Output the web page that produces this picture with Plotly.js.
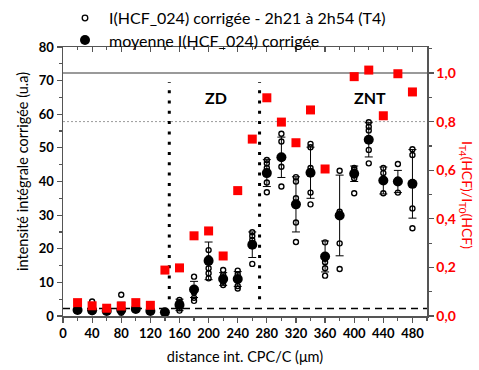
<!DOCTYPE html>
<html><head><meta charset="utf-8">
<script src="https://cdn.plot.ly/plotly-3.0.1.min.js"></script>
<style>body{margin:0;background:#fff}#g{width:479px;height:370px}</style>
</head><body><div id="g"></div>
<script>
const distances = [20,40,60,80,100,120,140,160,180,200,220,240,260,280,300,320,340,360,380,400,420,440,460,480];
const meanValues = [1.8,1.7,1.5,1.8,2.1,1.5,1.1,3.3,7.9,16.4,11.0,11.0,21.2,42.5,47.2,33.2,42.6,17.7,29.9,42.3,52.4,40.3,40.0,39.3];
const errValues  = [0.5,0.8,0.5,2.3,0.6,0.5,0.5,1.7,2.4,5.6,1.9,2.2,3.8,4.0,6.0,8.2,7.6,4.6,12.0,2.3,5.1,4.0,3.3,10.2];
const individualValues = [
  [1.5,1.9,2.2],[4.3,1.8,1.2],[1.3,1.7,2.0],[6.3,1.0,1.8,2.5],[2.0,2.5],[1.2,1.8],[0.8,1.3],
  [4.8,4.1,2.3,1.6],[11.7,8.2,7.0,5.4,4.5],[19.6,17.2,14.2,12.7,11.2],[13.7,12.2,10.2,9.2],
  [13.5,12.4,8.9,8.2],[24.9,23.8,22.6,15.5],[46.4,45.4,44.0,42.9,39.7,36.8],[54.2,51.9,44.4,38.5],
  [41.3,40.0,35.0,27.8,22.0],[51.2,50.2,44.0,36.7,33.2],[21.9,17.0,16.0,14.2,12.0],[43.2,31.0,21.6,14.0],
  [44.0,43.5,41.0,36.5],[57.6,56.3,55.2,49.4,45.4],[44.0,42.5,36.5],[45.2,36.7,40.5],[49.6,47.9,32.0,26.1]
];
const ratioValues = [0.055,0.042,0.032,0.041,0.055,0.044,0.189,0.198,0.330,0.350,0.247,0.516,0.728,0.898,0.798,0.713,0.848,0.605,null,0.985,1.012,0.824,0.997,0.922];
const zoneBoundaries = [146, 270];
const zoneLabels = [{text:'ZD', x:210}, {text:'ZNT', x:422}];
const thresholdLevel = 2.2;
const legendLabels = ['I(HCF_024) corrigée - 2h21 à 2h54 (T4)', 'moyenne I(HCF_024) corrigée'];

const indX = [], indY = [];
individualValues.forEach((arr,i)=>arr.forEach(v=>{indX.push(distances[i]); indY.push(v);}));

const FONT = 'Lato, sans-serif';
const traces = [
  {x:indX, y:indY, type:'scatter', mode:'markers', name:legendLabels[0], showlegend:false,
   marker:{symbol:'circle-open', size:5, color:'#000', line:{width:1.4, color:'#000'}}},
  {x:distances, y:meanValues, type:'scatter', mode:'markers', name:legendLabels[1], showlegend:false,
   marker:{symbol:'circle', size:10, color:'#000'},
   error_y:{type:'data', array:errValues, visible:true, color:'#000', thickness:1, width:4}},
  {x:distances, y:ratioValues, type:'scatter', mode:'markers', yaxis:'y2', showlegend:false,
   marker:{symbol:'square', size:9, color:'#ff0000'}},
  {x:[null], y:[null], xaxis:'x2', yaxis:'y', showlegend:false, hoverinfo:'skip'}
];

// plot area: left 63, top 47, width 364, height 269
const pxX = p => (p - 63) / 364;
const pxY = p => (316 - p) / 269;

const shapes = [
  {type:'line', xref:'paper', x0:0, x1:1, yref:'y2', y0:1.0, y1:1.0, line:{color:'#9a9a9a', width:2}, layer:'below'},
  {type:'line', xref:'paper', x0:0, x1:1, yref:'y2', y0:0.8, y1:0.8, line:{color:'#9a9a9a', width:1, dash:'2px,2px'}, layer:'below'},
  {type:'line', xref:'paper', x0:0, x1:1, yref:'y', y0:thresholdLevel, y1:thresholdLevel, line:{color:'#000', width:1.5, dash:'7px,5px'}, layer:'below'},
  // legend symbols
  {type:'circle', xref:'paper', yref:'paper', xsizemode:'pixel', ysizemode:'pixel', xanchor:pxX(85), yanchor:pxY(18),
   x0:-2.8, x1:2.8, y0:-2.8, y1:2.8, line:{color:'#000', width:1.3}, fillcolor:'rgba(0,0,0,0)'},
  {type:'circle', xref:'paper', yref:'paper', xsizemode:'pixel', ysizemode:'pixel', xanchor:pxX(85), yanchor:pxY(40),
   x0:-5, x1:5, y0:-5, y1:5, line:{color:'#000', width:0}, fillcolor:'#000'}
];
zoneBoundaries.forEach(b=>shapes.push({type:'line', xref:'x', x0:b, x1:b, yref:'y', y0:5, y1:69.5,
  line:{color:'#000', width:3, dash:'3px,7.3px'}, layer:'below'}));

const annotations = zoneLabels.map(z=>({text:'<b>'+z.text+'</b>', x:z.x, y:65, xref:'x', yref:'y', showarrow:false,
  font:{family:FONT, size:16, color:'#000'}}));
annotations.push({text:'I<sub>T4</sub>(HCF)/I<sub>T0</sub>(HCF)', textangle:90, xref:'paper', yref:'paper',
  x:pxX(467), y:pxY(195), xanchor:'center', yanchor:'middle', showarrow:false, font:{family:FONT, size:14, color:'#ff0000'}});
annotations.push({text:'intensité intégrale corrigée (u.a)', textangle:-90, xref:'paper', yref:'paper',
  x:pxX(22), y:pxY(172), xanchor:'center', yanchor:'middle', showarrow:false, font:{family:FONT, size:14.5, color:'#000'}});
legendLabels.forEach((t,i)=>annotations.push({text:t, xref:'paper', yref:'paper', x:pxX(107), y:pxY(i===0?18:40),
  xanchor:'left', yanchor:'middle', showarrow:false, font:{family:FONT, size:16, color:'#000'}}));

const axLine = '#555';
const tickFont = {family:FONT, size:13, color:'#000', weight:'bold'};
const layout = {
  width:479, height:370, paper_bgcolor:'#fff', plot_bgcolor:'#fff',
  margin:{l:63, r:52, t:47, b:54},
  separators:',.',
  showlegend:false,
  xaxis:{range:[0,500], tickvals:[0,40,80,120,160,200,240,280,320,360,400,440,480], ticks:'outside', ticklen:5, tickwidth:1.2,
    tickcolor:axLine, showline:true, linecolor:axLine, linewidth:1.5, showgrid:false, zeroline:false,
    minor:{dtick:20, tick0:0, ticks:'outside', ticklen:3, tickcolor:axLine, showgrid:false},
    tickfont:tickFont,
    title:{text:'distance int. CPC/C (μm)', font:{family:FONT, size:14.5, color:'#000'}, standoff:12}},
  xaxis2:{range:[0,500], overlaying:'x', side:'top', matches:'x', dtick:40, tick0:0, ticks:'inside', ticklen:5, tickwidth:1.2,
    tickcolor:axLine, showline:true, linecolor:axLine, linewidth:1.5, showgrid:false, zeroline:false, showticklabels:false,
    minor:{dtick:20, tick0:0, ticks:'inside', ticklen:3, tickcolor:axLine, showgrid:false}},
  yaxis:{range:[0,80], dtick:10, ticks:'outside', ticklen:5, tickwidth:1.2, tickcolor:axLine,
    showline:true, linecolor:axLine, linewidth:1.5, showgrid:false, zeroline:false,
    minor:{dtick:5, ticks:'outside', ticklen:3, tickcolor:axLine, showgrid:false},
    tickfont:tickFont},
  yaxis2:{range:[0,1.107], overlaying:'y', side:'right', tickvals:[0,0.2,0.4,0.6,0.8,1.0], tickformat:'.1f',
    ticks:'outside', ticklen:5, tickwidth:1.2, tickcolor:axLine,
    showline:true, linecolor:axLine, linewidth:1.5, showgrid:false, zeroline:false,
    minor:{dtick:0.1, tick0:0, ticks:'outside', ticklen:3, tickcolor:axLine, showgrid:false},
    tickfont:{family:FONT, size:14, color:'#ff0000', weight:'bold'}},
  shapes:shapes, annotations:annotations
};
Plotly.newPlot('g', traces, layout, {displayModeBar:false, staticPlot:true});
</script></body></html>
